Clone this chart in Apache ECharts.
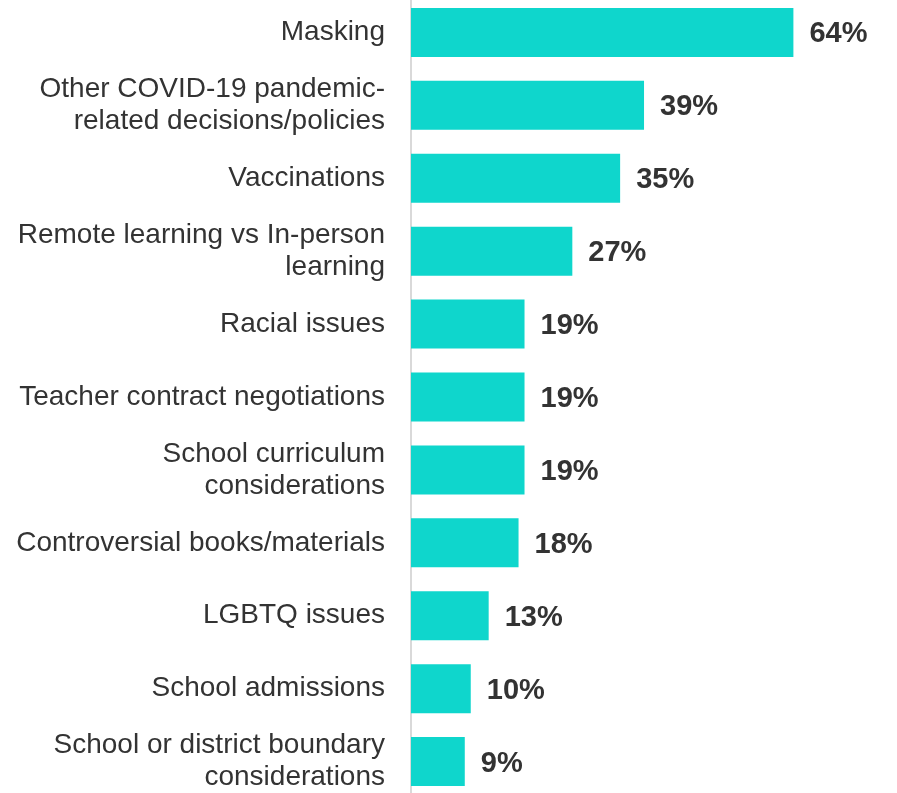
<!DOCTYPE html>
<html>
<head>
<meta charset="utf-8">
<script src="https://cdn.jsdelivr.net/npm/echarts@6/dist/echarts.min.js"></script>
<style>
  html, body { margin: 0; padding: 0; background: #fff; overflow: hidden; }
  #chart { position: absolute; left: 0; top: -4px; width: 897px; height: 802px; }
</style>
</head>
<body>
<div id="chart"></div>
<script>
const categories = [
  'Masking',
  'Other COVID-19 pandemic-\nrelated decisions/policies',
  'Vaccinations',
  'Remote learning vs In-person\nlearning',
  'Racial issues',
  'Teacher contract negotiations',
  'School curriculum\nconsiderations',
  'Controversial books/materials',
  'LGBTQ issues',
  'School admissions',
  'School or district boundary\nconsiderations'
]
const values = [64, 39, 35, 27, 19, 19, 19, 18, 13, 10, 9]

const font = '"Liberation Sans", Arial, sans-serif'
const myChart = echarts.init(document.getElementById('chart'))
const option = {
  animation: false,
  grid: { left: 411, right: 8, top: 0, bottom: 0 },
  xAxis: {
    type: 'value',
    min: 0,
    max: 80,
    show: false,
  },
  yAxis: {
    type: 'category',
    inverse: true,
    data: categories,
    axisLine: { show: true, lineStyle: { color: '#d9d9d9', width: 2 } },
    axisTick: { show: false },
    axisLabel: {
      margin: 26,
      color: '#333',
      fontSize: 28,
      lineHeight: 32,
      fontFamily: font,
      align: 'right',
      padding: [4, 0, 0, 0],
    },
  },
  series: [
    {
      type: 'bar',
      data: values,
      barWidth: 49,
      itemStyle: { color: '#0fd6cc' },
      label: {
        show: true,
        position: 'right',
        distance: 16,
        offset: [0, 2],
        formatter: '{c}%',
        color: '#333',
        fontSize: 29,
        fontWeight: 'bold',
        fontFamily: font,
      },
    },
  ],
}
myChart.setOption(option)
</script>
</body>
</html>
